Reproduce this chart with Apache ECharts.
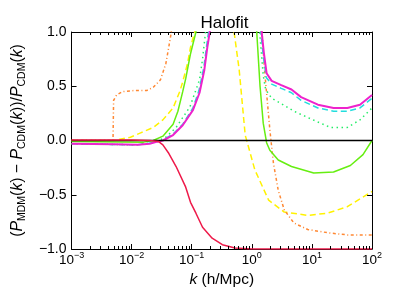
<!DOCTYPE html>
<html><head><meta charset="utf-8">
<script src="https://cdn.jsdelivr.net/npm/echarts@6/dist/echarts.min.js"></script>
<style>html,body{margin:0;padding:0;background:#fff}#c{width:399px;height:299px}</style>
</head><body><div id="c"></div>
<script>
// data: [log10(k), ratio] (values above 1 are clipped peaks)
const redLine = [[-3,0.005],[-2,0.005],[-1.7,0.0],[-1.55,-0.01],[-1.48,-0.04],[-1.38,-0.12],[-1.26,-0.24],[-1.10,-0.43],[-1.02,-0.57],[-0.93,-0.67],[-0.82,-0.80],[-0.66,-0.90],[-0.49,-0.96],[-0.28,-0.99],[0,-1.0],[2,-1.0]];
const magentaLine = [[-3,-0.03],[-2.3,-0.035],[-1.9,-0.04],[-1.7,-0.03],[-1.6,-0.015],[-1.48,0.0],[-1.31,0.05],[-1.15,0.14],[-0.98,0.28],[-0.87,0.44],[-0.79,0.65],[-0.74,0.86],[-0.70,1.0],[-0.66,1.3],[-0.3,4],[0.1,1.5],[0.164,1.0],[0.2,0.81],[0.246,0.62],[0.33,0.55],[0.49,0.51],[0.66,0.47],[0.82,0.40],[1.10,0.33],[1.36,0.30],[1.59,0.30],[1.80,0.33],[2.0,0.42]];
const cyanLine = [[-3,-0.03],[-1.9,-0.04],[-1.6,-0.015],[-1.49,0.0],[-1.31,0.06],[-1.15,0.15],[-0.98,0.30],[-0.88,0.46],[-0.80,0.67],[-0.75,0.88],[-0.72,1.0],[-0.68,1.3],[-0.3,4],[0.09,1.5],[0.15,1.0],[0.19,0.78],[0.24,0.58],[0.33,0.52],[0.49,0.48],[0.66,0.44],[0.82,0.37],[1.10,0.30],[1.36,0.27],[1.59,0.27],[1.80,0.30],[2.0,0.39]];
const greenDotLine = [[-3,-0.03],[-1.9,-0.04],[-1.65,-0.02],[-1.55,0.0],[-1.43,0.03],[-1.26,0.12],[-1.03,0.31],[-0.87,0.56],[-0.82,0.75],[-0.77,1.0],[-0.73,1.3],[-0.3,4],[0.07,1.5],[0.13,1.0],[0.19,0.6],[0.23,0.47],[0.33,0.39],[0.49,0.34],[0.70,0.27],[0.82,0.24],[1.10,0.17],[1.31,0.12],[1.59,0.12],[1.80,0.19],[2.0,0.30]];
const greenLine = [[-3,-0.01],[-1.8,-0.015],[-1.64,0.0],[-1.48,0.04],[-1.31,0.15],[-1.23,0.27],[-1.15,0.45],[-1.10,0.57],[-1.02,0.80],[-0.93,1.0],[-0.88,1.3],[-0.4,4],[0.03,1.5],[0.082,1.0],[0.137,0.50],[0.19,0.16],[0.246,-0.02],[0.30,-0.09],[0.44,-0.18],[0.66,-0.24],[1.03,-0.30],[1.36,-0.29],[1.64,-0.23],[1.85,-0.13],[2.0,0.0]];
const yellowLine = [[-3,0],[-2.30,0],[-2.02,0.03],[-1.85,0.07],[-1.64,0.12],[-1.48,0.19],[-1.31,0.30],[-1.20,0.45],[-1.15,0.54],[-1.07,0.71],[-1.02,0.86],[-0.95,1.0],[-0.9,1.3],[-0.6,3],[-0.36,1.3],[-0.295,1.0],[-0.21,0.65],[-0.16,0.35],[-0.11,0.05],[-0.08,-0.01],[0.05,-0.27],[0.28,-0.55],[0.54,-0.66],[0.93,-0.69],[1.26,-0.67],[1.59,-0.61],[2.0,-0.47]];
const orangeLine = [[-3,0],[-2.31,0],[-2.30,0.37],[-2.25,0.42],[-2.15,0.45],[-1.97,0.46],[-1.75,0.46],[-1.64,0.49],[-1.52,0.56],[-1.43,0.71],[-1.36,0.93],[-1.34,1.0],[-1.3,1.4],[-0.5,4],[0.12,1.4],[0.17,1.0],[0.21,0.66],[0.30,0.10],[0.36,-0.21],[0.44,-0.46],[0.54,-0.64],[0.70,-0.76],[0.93,-0.82],[1.26,-0.85],[1.59,-0.87],[2.0,-0.87]];
const zeroLine = [[-3,0],[2,0]];
const xMin = 1e-3, xMax = 1e2;

const FF = 'Liberation Sans';
const toK = pts => pts.map(p => [Math.pow(10, p[0]), p[1]]);
const minorK = [];
for (let d = -3; d < 2; d++) for (let m = 2; m <= 9; m++) minorK.push([m * Math.pow(10, d), 0]);

function line(data, color, width, type, z) {
  return {type:'line', data: toK(data), showSymbol:false, symbol:'none', clip:true, z:z,
    lineStyle:{color:color, width:width, type:type}, silent:true, animation:false};
}
const chart = echarts.init(document.getElementById('c'));
const xLab = v => { const e = Math.round(Math.log10(v)); return '{b|10}{s|' + (e < 0 ? '\u2212' + (-e) : e) + '}'; };
const common = {
  type:'log', logBase:10, min:xMin, max:xMax,
  axisLine:{show:true, onZero:false, lineStyle:{color:'#000', width:1}},
  axisTick:{show:true, inside:true, length:5, lineStyle:{color:'#000', width:1}},
  splitLine:{show:false}, minorTick:{show:false}
};
chart.setOption({
  animation:false,
  title:{text:'Halofit', left:219.5, top:10, textAlign:'center',
    textStyle:{fontFamily:FF, fontSize:17, fontWeight:'normal', color:'#000'}},
  grid:{left:67, right:27, top:32, bottom:50},
  xAxis:[
    Object.assign({}, common, {position:'bottom',
      axisLabel:{show:true, margin:2, formatter:xLab,
        rich:{b:{fontFamily:FF, fontSize:13.5, color:'#000', lineHeight:18},
              s:{fontFamily:FF, fontSize:9, color:'#000', lineHeight:10, verticalAlign:'top'}}},
      name:'{i|k} (h/Mpc)', nameLocation:'middle', nameGap:22,
      nameTextStyle:{fontFamily:FF, fontSize:15.5, color:'#000',
        rich:{i:{fontFamily:FF, fontSize:15.5, fontStyle:'italic', color:'#000'}}}}),
    Object.assign({}, common, {position:'top', axisLabel:{show:false}})
  ],
  yAxis:[
    {type:'value', min:-1, max:1, interval:0.5, position:'left',
      axisLine:{show:true, onZero:false, lineStyle:{color:'#000', width:1}},
      axisTick:{show:true, inside:true, length:5, lineStyle:{color:'#000'}},
      splitLine:{show:false},
      axisLabel:{margin:5, fontFamily:FF, fontSize:14, color:'#000',
        formatter: v => v.toFixed(1).replace('-', '\u2212')},
      name:'({P|P}{sub|MDM}({k|k}) \u2212 {P|P}{sub|CDM}({k|k}))/{P|P}{sub|CDM}({k|k})',
      nameLocation:'middle', nameGap:39, nameRotate:90,
      nameTextStyle:{fontFamily:FF, fontSize:15.8, color:'#000', lineHeight:20,
        rich:{P:{fontFamily:FF, fontSize:15.8, fontStyle:'italic', color:'#000', lineHeight:20},
              k:{fontFamily:FF, fontSize:15.8, fontStyle:'italic', color:'#000', lineHeight:20},
              sub:{fontFamily:FF, fontSize:10.5, color:'#000', lineHeight:11, verticalAlign:'bottom'}}}},
    {type:'value', min:-1, max:1, interval:0.5, position:'right',
      axisLine:{show:true, onZero:false, lineStyle:{color:'#000', width:1}},
      axisTick:{show:true, inside:true, length:5, lineStyle:{color:'#000'}},
      splitLine:{show:false}, axisLabel:{show:false}}
  ],
  series:[
    line(yellowLine, '#fff200', 1.5, [6,3.5], 2),
    line(orangeLine, '#ff8833', 1.5, [3,2.5,1,2.5], 2),
    line(cyanLine, '#22dddd', 1.5, [6,3.5], 3),
    line(greenDotLine, '#22ee66', 1.5, [1.5,3.5], 3),
    line(greenLine, '#66ee11', 1.5, 'solid', 4),
    line(magentaLine, '#ee22cc', 2, 'solid', 5),
    line(zeroLine, '#000000', 1.5, 'solid', 6),
    line(redLine, '#ee1a4a', 1.5, 'solid', 7),
    {type:'custom', data:minorK, silent:true, clip:false, z:10,
      renderItem:(params, api) => {
        const b = api.coord([api.value(0), -1]);
        const t = api.coord([api.value(0), 1]);
        const x = Math.round(b[0]) + 0.5;
        return {type:'group', children:[
          {type:'line', shape:{x1:x, y1:b[1], x2:x, y2:b[1]-3}, style:{stroke:'#000', lineWidth:1}},
          {type:'line', shape:{x1:x, y1:t[1], x2:x, y2:t[1]+3}, style:{stroke:'#000', lineWidth:1}}
        ]};
      }}
  ]
});
</script></body></html>
